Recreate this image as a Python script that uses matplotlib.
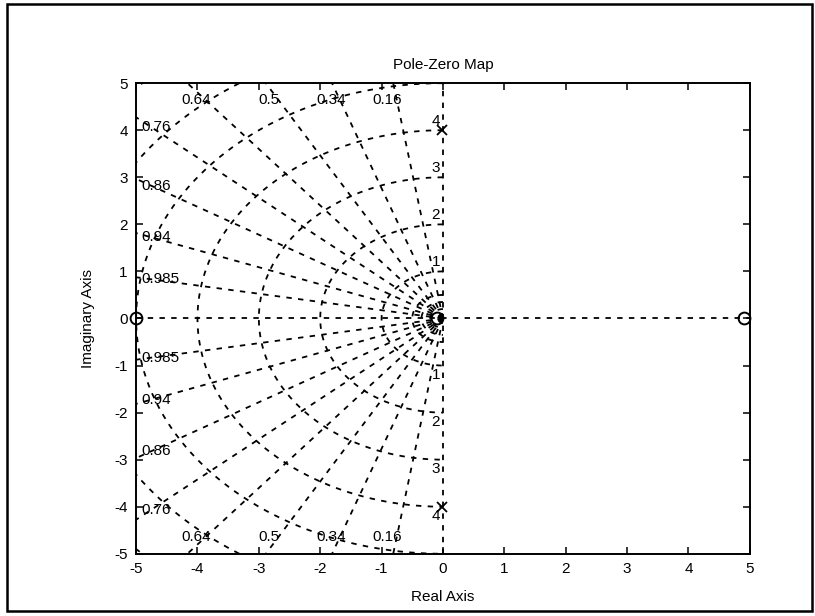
import numpy as np
import matplotlib
matplotlib.use("Agg")
import matplotlib.pyplot as plt
from matplotlib.patches import Rectangle

plt.rcParams['font.family'] = ['Liberation Sans', 'DejaVu Sans']
plt.rcParams['axes.unicode_minus'] = False

# pole / zero locations
zero_re = [-5.0, -0.1, 4.9]
zero_im = [0.0, 0.0, 0.0]
pole_re = [-0.02, -0.02]
pole_im = [4.0, -4.0]

# s-plane grid (damping ratios and natural frequencies)
zeta_vals = [0.16, 0.34, 0.5, 0.64, 0.76, 0.86, 0.94, 0.985]
zeta_labels = ['0.16', '0.34', '0.5', '0.64', '0.76', '0.86', '0.94', '0.985']
wn_vals = [0.2, 0.35, 0.5, 1, 2, 3, 4, 5, 6, 7]
wn_labels = [1, 2, 3, 4]

ticks = [-5, -4, -3, -2, -1, 0, 1, 2, 3, 4, 5]

fs = 11

fig = plt.figure(figsize=(8.15, 6.16), dpi=100)
ax = fig.add_axes([0.167, 0.101, 0.753, 0.764])

grid_kw = dict(color='black', lw=1.3, ls=(0, (3, 3.5)), zorder=1)

# damping lines
for z in zeta_vals:
    wd = np.sqrt(1 - z ** 2)
    for s in (1, -1):
        ax.plot([0, -z * 20], [0, s * wd * 20], **grid_kw)

# zeta = 1 and zeta = 0 lines
ax.plot([-5, 5], [0, 0], **grid_kw)
ax.plot([0, 0], [-5, 5], **grid_kw)

# natural frequency arcs (left half plane)
th = np.linspace(np.pi / 2, 3 * np.pi / 2, 200)
for w in wn_vals:
    ax.plot(w * np.cos(th), w * np.sin(th), **grid_kw)

# damping labels
for z, lab in zip(zeta_vals, zeta_labels):
    wd = np.sqrt(1 - z ** 2)
    xt = z / wd * 4.64
    for s in (1, -1):
        if xt < 4.6:
            ax.text(-xt - 0.15, s * 4.64, lab, ha='center', va='center',
                    fontsize=fs, zorder=3)
        else:
            ax.text(-4.92, s * wd / z * 4.75, lab, ha='left', va='center',
                    fontsize=fs, zorder=3)

# frequency labels
for w in wn_labels:
    for s in (1, -1):
        ax.text(-0.05, s * (w + 0.2), str(w), ha='right', va='center',
                fontsize=fs, zorder=3)

ax.plot(zero_re, zero_im, 'o', mfc='none', mec='black', ms=8.5, mew=1.4,
        zorder=4, clip_on=False)
ax.plot(pole_re, pole_im, 'x', color='black', ms=7.5, mew=1.3, zorder=4)

ax.set_xlim(-5, 5)
ax.set_ylim(-5, 5)
ax.set_xticks(ticks)
ax.set_yticks(ticks)
ax.tick_params(direction='in', length=5, width=1.1, top=True, right=True,
               labelsize=fs, pad=6)
for sp in ax.spines.values():
    sp.set_linewidth(1.4)

ax.set_title('Pole-Zero Map', fontsize=fs, pad=10)
ax.set_xlabel('Real Axis', fontsize=fs, labelpad=10)
ax.set_ylabel('Imaginary Axis', fontsize=fs, labelpad=14)

# scanned page frame
fig.patches.append(Rectangle((0.009, 0.008), 0.987, 0.986, transform=fig.transFigure,
                             fill=False, ec='black', lw=1.8))

fig.savefig('out.png', dpi=100)
